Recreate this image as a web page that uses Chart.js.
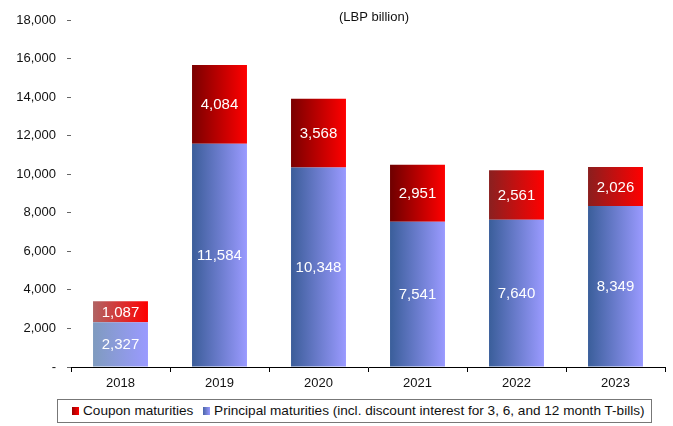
<!DOCTYPE html>
<html>
<head>
<meta charset="utf-8">
<script src="https://cdn.jsdelivr.net/npm/chart.js@4"></script>
<style>
  body { margin: 0; background: #fff; font-family: "Liberation Sans", Arial, sans-serif; }
  #wrap { position: relative; width: 673px; height: 426px; }
  #box { position: absolute; left: 0; top: 0; width: 673px; height: 395px; }
  #legend {
    position: absolute; left: 57px; top: 399px; width: 593px; height: 22px;
    border: 1px solid #777; box-sizing: content-box;
    font-size: 13.6px; color: #111; line-height: 22px; white-space: nowrap;
  }
  #legend span.sw { display: inline-block; width: 7px; height: 8px; margin: 0 4px 0 0; }
  #legend span.item { margin-left: 14px; }
  #legend span.item + span.item { margin-left: 6px; }
</style>
</head>
<body>
<div id="wrap">
  <div id="box"><canvas id="myChart"></canvas></div>
  <div id="legend">
    <span class="item"><span class="sw" style="background:linear-gradient(90deg,#900,#f00)"></span>Coupon maturities</span>
    <span class="item"><span class="sw" style="background:linear-gradient(90deg,#4a66a8,#99f)"></span>Principal maturities (incl. discount interest for 3, 6, and 12 month T-bills)</span>
  </div>
</div>
<script>
const years = ['2018', '2019', '2020', '2021', '2022', '2023'];
const principal = [2327, 11584, 10348, 7541, 7640, 8349];
const coupon = [1087, 4084, 3568, 2951, 2561, 2026];
const yTicks = [0, 2000, 4000, 6000, 8000, 10000, 12000, 14000, 16000, 18000];

// left edge colours of each bar's gradient; right edge is always the bright tone
const blueStart = ['#7f9bbf', '#3b5d99', '#3b5d99', '#3a5e9a', '#3a5e9a', '#3a5e9a'];
const redStart = ['#b06464', '#7a0000', '#7a0000', '#6e0000', '#8a2020', '#8a1e1e'];

const barPct = 0.555;

const grad = (startColors, endColor) => (c) => {
  const chart = c.chart;
  const xs = chart.scales.x;
  if (!xs || !chart.chartArea) return endColor;
  const cx = xs.getPixelForValue(c.dataIndex);
  const half = (xs.width / years.length) * barPct / 2;
  const g = chart.ctx.createLinearGradient(cx - half, 0, cx + half, 0);
  g.addColorStop(0, startColors[c.dataIndex]);
  g.addColorStop(1, endColor);
  return g;
};

const fmt = (v) => v === 0 ? '-' : v.toLocaleString('en-US');

// white value labels in the middle of each segment, plus the unit note
const valueLabels = {
  id: 'valueLabels',
  afterDatasetsDraw(chart) {
    const ctx = chart.ctx;
    ctx.save();
    ctx.font = '15px "Liberation Sans", Arial, sans-serif';
    ctx.fillStyle = '#fff';
    ctx.textAlign = 'center';
    ctx.textBaseline = 'middle';
    chart.data.datasets.forEach((ds, i) => {
      chart.getDatasetMeta(i).data.forEach((bar, j) => {
        const mid = (bar.y + bar.base) / 2;
        ctx.fillText(fmt(ds.data[j]), bar.x, mid + 1);
      });
    });
    ctx.fillStyle = '#111';
    ctx.font = '13px "Liberation Sans", Arial, sans-serif';
    ctx.fillText('(LBP billion)', 374, 17);
    ctx.restore();
  }
};

new Chart('myChart', {
  type: 'bar',
  data: {
    labels: years,
    datasets: [{
      label: 'Principal maturities (incl. discount interest for 3, 6, and 12 month T-bills)',
      data: principal,
      backgroundColor: grad(blueStart, '#9a9aff'),
      barPercentage: barPct,
      categoryPercentage: 1
    }, {
      label: 'Coupon maturities',
      data: coupon,
      backgroundColor: grad(redStart, '#ff0000'),
      barPercentage: barPct,
      categoryPercentage: 1
    }]
  },
  options: {
    responsive: true,
    maintainAspectRatio: false,
    animation: false,
    layout: { padding: { top: 20, right: 8, left: 0, bottom: 0 } },
    plugins: { legend: { display: false }, tooltip: { enabled: false } },
    scales: {
      x: {
        stacked: true,
        afterFit: (s) => { s.height = 28; },
        border: { color: '#000', width: 1 },
        grid: { drawOnChartArea: false, tickLength: 5, color: '#000', offset: true },
        ticks: { color: '#111', font: { size: 13, family: '"Liberation Sans", Arial, sans-serif' }, padding: 4 }
      },
      y: {
        stacked: true,
        min: 0,
        max: 18000,
        afterFit: (s) => { s.width = 71; },
        afterBuildTicks: (s) => { s.ticks = yTicks.map(v => ({ value: v })); },
        border: { display: false },
        grid: { drawOnChartArea: false, tickLength: 4, color: '#666' },
        ticks: {
          color: '#111',
          padding: 11,
          font: { size: 13, family: '"Liberation Sans", Arial, sans-serif' },
          callback: (v) => fmt(v)
        }
      }
    }
  },
  plugins: [valueLabels]
});
</script>
</body>
</html>
